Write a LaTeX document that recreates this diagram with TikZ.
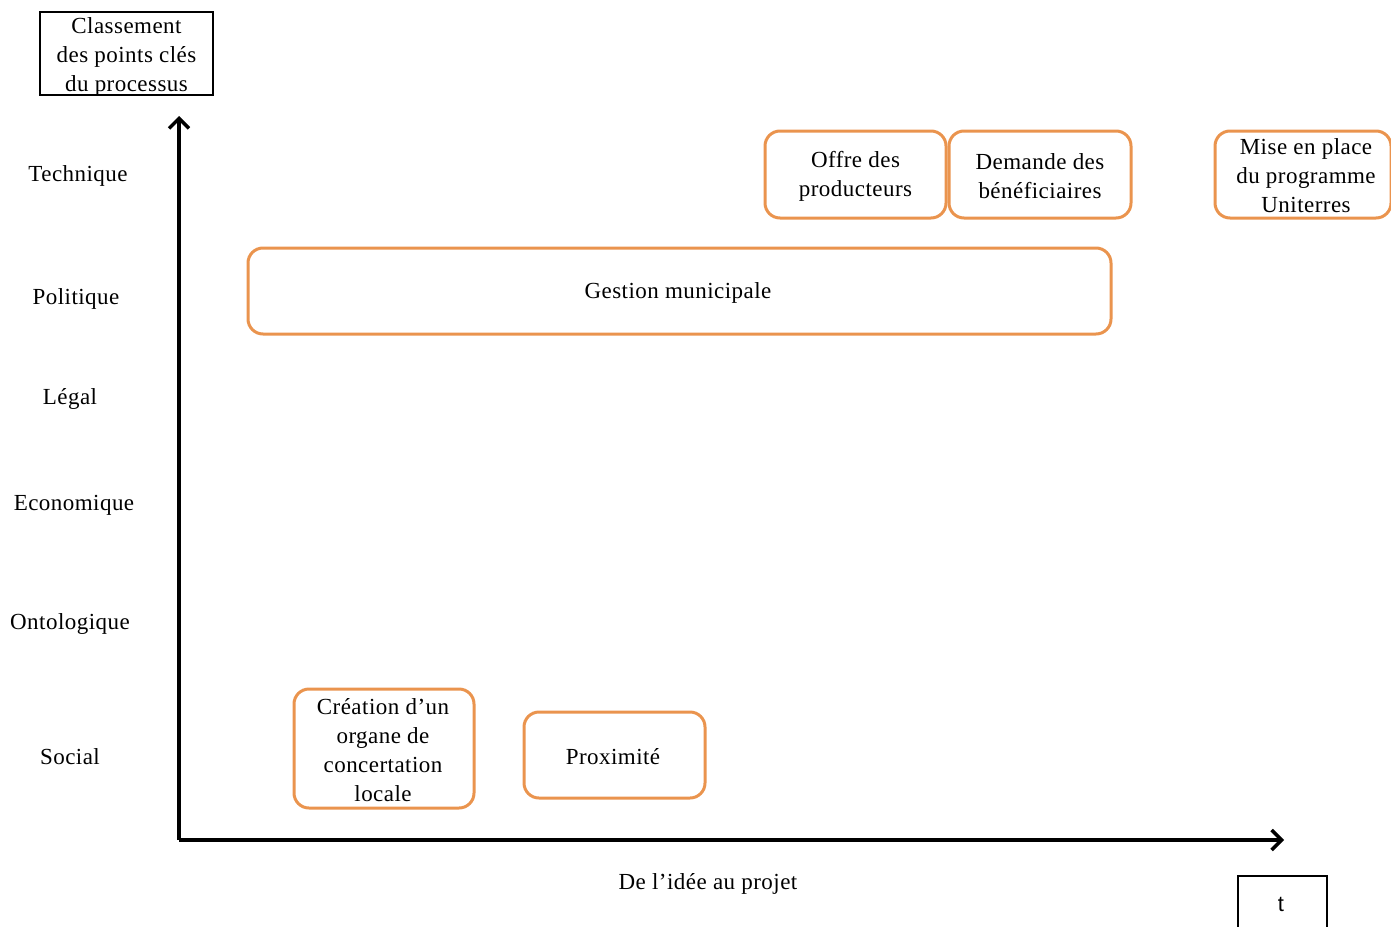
\documentclass[tikz,border=0pt]{standalone}
\usepackage{fontspec}
\setmainfont{Liberation Serif}[LetterSpace=2]
\newfontfamily\tfont{Liberation Sans}
\usetikzlibrary{arrows.meta}
\definecolor{boxorange}{RGB}{234,148,78}
\begin{document}
\begin{tikzpicture}[x=1pt,y=-1pt,
  every node/.style={font=\fontsize{23}{29}\selectfont, align=center},
  stage/.style={draw=boxorange, line width=3pt, rounded corners=15pt, inner sep=0pt},
  plainbox/.style={draw=black, line width=2pt, inner sep=0pt},
  axis/.style={line width=3.5pt, -{Straight Barb[length=10pt,width=20pt,line width=3.5pt]}},
  rowlabel/.style={anchor=center}]
\useasboundingbox (0,0) rectangle (1391,926);

% axis caption box
\node[plainbox, minimum width=173pt, minimum height=83pt] (cls) at (126.5,53.5) {};
\node (clst) at (126.5,56.5) {Classement\\des points clés\\du processus};

% axes
\coordinate (origin) at (179,840);
\coordinate (ytop) at (179,116);
\coordinate (xend) at (1284,840);
\draw[axis] (origin) -- (ytop);
\draw[axis] (origin) -- (xend);

% row labels
\node[rowlabel] (r1) at (78,176) {Technique};
\node[rowlabel] (r2) at (76,299) {Politique};
\node[rowlabel] (r3) at (70,399) {Légal};
\node[rowlabel] (r4) at (74,505) {Economique};
\node[rowlabel] (r5) at (70,624) {Ontologique};
\node[rowlabel] (r6) at (70,757) {Social};

% stages
\node[stage, minimum width=181pt, minimum height=87pt] (offre) at (855.5,174.5) {};
\node (offret) at (855.5,176) {Offre des\\producteurs};
\node[stage, minimum width=182pt, minimum height=87pt] (demande) at (1040,174.5) {};
\node (demandet) at (1040,176) {Demande des\\bénéficiaires};
\node[stage, minimum width=176pt, minimum height=87pt] (mise) at (1303,174.5) {};
\node (miset) at (1306,176) {Mise en place\\du programme\\Uniterres};
\node[stage, minimum width=863pt, minimum height=86pt] (gestion) at (679.5,291) {};
\node (gestiont) at (678,293) {Gestion municipale};
\node[stage, minimum width=180pt, minimum height=119pt] (creation) at (384,748.5) {};
\node (creationt) at (383,750) {Création d’un\\organe de\\concertation\\locale};
\node[stage, minimum width=181pt, minimum height=86pt] (prox) at (614.5,755) {};
\node (proxt) at (613,757) {Proximité};

% x-axis caption and time box
\node (xlab) at (708,884) {De l’idée au projet};
\node[plainbox, minimum width=89pt, minimum height=60pt] (tbox) at (1282.5,906) {};
\node[font=\tfont\fontsize{22}{26}\selectfont] (tt) at (1281,904) {t};
\end{tikzpicture}
\end{document}
